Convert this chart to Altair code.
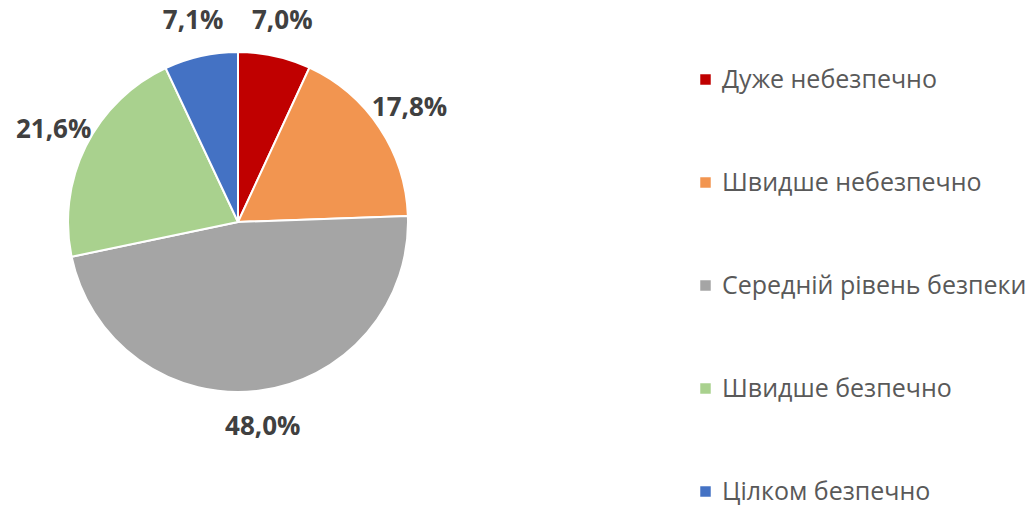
import altair as alt
import pandas as pd

categories = ["Дуже небезпечно", "Швидше небезпечно", "Середній рівень безпеки",
              "Швидше безпечно", "Цілком безпечно"]
values = [7.0, 17.8, 48.0, 21.6, 7.1]
labels = ["7,0%", "17,8%", "48,0%", "21,6%", "7,1%"]
colors = ["#C00000", "#F29550", "#A5A5A5", "#A9D18E", "#4472C4"]

df = pd.DataFrame({"cat": categories, "val": values, "lab": labels,
                   "idx": list(range(len(categories)))})

color = alt.Color("cat:N", scale=alt.Scale(domain=categories, range=colors),
                  legend=alt.Legend(title=None, orient="none", legendX=693, legendY=67,
                                    symbolType="square", symbolSize=110,
                                    symbolStrokeWidth=0,
                                    labelFontSize=25, labelFont="Open Sans",
                                    labelColor="#595959", labelLimit=0,
                                    labelOffset=4, rowPadding=77))

base = alt.Chart(df).encode(
    theta=alt.Theta("val:Q", stack=True),
    order=alt.Order("idx:Q"),
)

arcs = base.mark_arc(outerRadius=170, stroke="white", strokeWidth=2).encode(
    color=color,
    x=alt.value(238), y=alt.value(222),
)

text = base.mark_text(radius=206, font="Open Sans", fontSize=26, fontWeight="bold",
                      color="#404040").encode(
    text="lab:N",
    x=alt.value(238), y=alt.value(222),
)

chart = alt.layer(arcs, text).properties(
    width=1032, height=508,
    autosize=alt.AutoSizeParams(type="none"),
    padding=0,
).configure_view(stroke=None)

chart.save("out.html", embed_options={"renderer": "svg", "actions": False})
